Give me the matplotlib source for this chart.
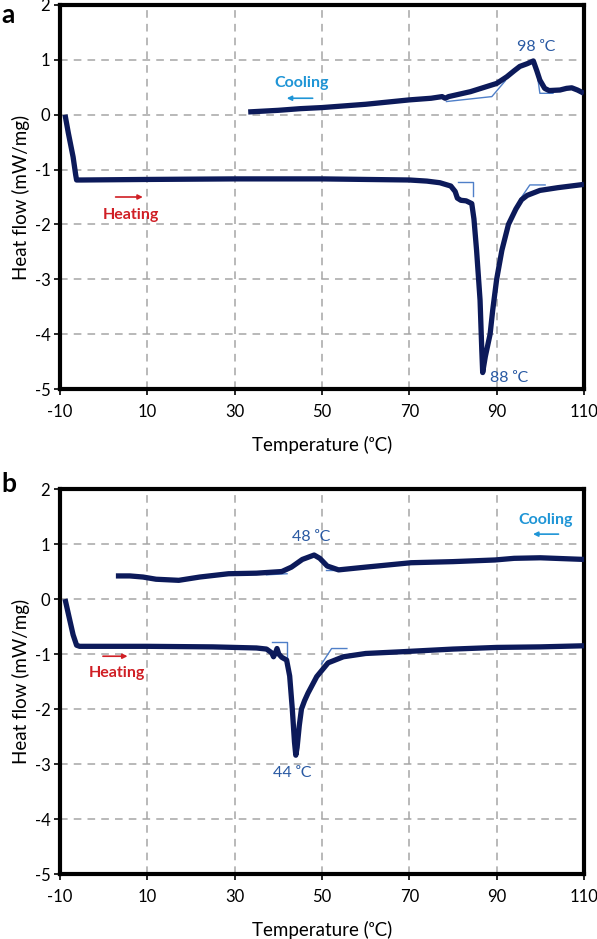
import matplotlib
matplotlib.use("Agg")
import matplotlib.pyplot as plt

plt.rcParams['font.family'] = ['Lato', 'DejaVu Sans']

# ---------------- data ----------------
x_ticks = [-10, 10, 30, 50, 70, 90, 110]
y_ticks = [-5, -4, -3, -2, -1, 0, 1, 2]

# Panel a
a_heat_T = [-8.85, -8.1, -7.0, -6.4, -6.2, -5, 10, 30, 50, 60, 70, 74, 77, 79.5, 80.5, 81.0, 81.8, 83.0,
            84.3, 84.8, 85.4, 86.2, 86.6, 86.8, 87.0, 87.4, 88.5, 89.1, 90.0, 91.2, 92.7, 94.4, 95.7,
            97.0, 99.9, 104, 107, 110]
a_heat_v = [0.0, -0.33, -0.77, -1.1, -1.19, -1.19, -1.18, -1.17, -1.17, -1.18, -1.19, -1.21, -1.24, -1.30,
            -1.40, -1.52, -1.56, -1.57, -1.62, -1.9, -2.47, -3.38, -4.3, -4.70, -4.6, -4.41, -4.0, -3.56,
            -3.0, -2.47, -2.0, -1.72, -1.55, -1.47, -1.38, -1.33, -1.30, -1.27]
a_cool_T = [33.1, 40, 45, 50, 60, 70, 75, 77.5, 78.2, 79, 84, 88, 90, 92.3, 94, 95.3, 97, 98.4, 99.2,
            99.9, 101, 102, 104.5, 106, 107.2, 108.5, 110]
a_cool_v = [0.05, 0.08, 0.11, 0.13, 0.19, 0.27, 0.30, 0.33, 0.30, 0.33, 0.42, 0.52, 0.57, 0.69, 0.80,
            0.88, 0.93, 0.98, 0.80, 0.63, 0.48, 0.44, 0.45, 0.48, 0.49, 0.45, 0.39]
a_tangents = [
    ([81.2, 84.6, 84.6], [-1.22, -1.22, -1.49]),
    ([95.3, 97.6, 101.1], [-1.55, -1.28, -1.28]),
    ([78.5, 88.9, 92.0], [0.24, 0.33, 0.62]),
    ([99.0, 99.9, 102.9], [0.90, 0.39, 0.39]),
]

# Panel b
b_heat_T = [-8.85, -8.0, -7.0, -6.2, -5.5, 10, 25, 30, 35, 37.3, 38.5, 38.9, 39.4, 39.7, 40.1, 40.8,
            41.9, 42.6, 43.2, 43.7, 44.0, 44.3, 44.8, 45.3, 46.0, 46.8, 48.8, 51.4, 54.9, 60, 67.9,
            80, 90, 100, 110]
b_heat_v = [0.0, -0.3, -0.65, -0.84, -0.86, -0.86, -0.87, -0.88, -0.89, -0.91, -0.98, -1.05, -0.97,
            -0.90, -1.0, -1.06, -1.11, -1.4, -2.0, -2.6, -2.84, -2.7, -2.3, -2.0, -1.85, -1.71, -1.41,
            -1.16, -1.05, -0.99, -0.96, -0.91, -0.88, -0.87, -0.85]
b_cool_T = [2.8, 6, 9, 12, 17.2, 22, 28.6, 35, 40.8, 43, 45.5, 48.2, 49.5, 51.2, 53.8, 60, 70.4, 80,
            89.6, 94, 100, 110]
b_cool_v = [0.42, 0.42, 0.40, 0.36, 0.34, 0.40, 0.46, 0.47, 0.50, 0.58, 0.72, 0.80, 0.74, 0.60, 0.53,
            0.58, 0.66, 0.68, 0.71, 0.74, 0.75, 0.72]
b_tangents = [
    ([38.5, 41.9, 41.9], [-0.79, -0.79, -1.16]),
    ([49.9, 52.2, 55.7], [-1.18, -0.90, -0.90]),
    ([37.3, 42.0], [0.44, 0.46]),
    ([51.0, 54.5], [0.52, 0.52]),
]

NAVY = '#0c1a5a'
THIN = '#4f7fc8'
ANNO = '#2a5aa3'
COOL = '#1f95d6'
HEAT = '#d01f25'

fig = plt.figure(figsize=(5.97, 9.39), dpi=100)
ax_a = fig.add_axes([0.1005, 0.5857, 0.8777, 0.409])
ax_b = fig.add_axes([0.1005, 0.0692, 0.8777, 0.41])


def style(ax):
    ax.set_xlim(-10, 110)
    ax.set_ylim(-5, 2)
    ax.set_xticks(x_ticks)
    ax.set_yticks(y_ticks)
    ax.set_xticklabels([str(t) for t in x_ticks])
    ax.set_yticklabels([str(t) for t in y_ticks])
    ax.grid(True, color='#a6a6a6', linestyle=(0, (5, 4)), linewidth=1.1)
    ax.set_axisbelow(True)
    for s in ax.spines.values():
        s.set_linewidth(3.0)
        s.set_color('black')
    ax.tick_params(axis='both', direction='out', length=4, width=1.2, labelsize=12, colors='black')
    ax.tick_params(axis='x', pad=7)
    ax.tick_params(axis='y', pad=3)
    ax.set_xlabel('Temperature (ᵒC)', fontsize=13.5, labelpad=11)
    ax.set_ylabel('Heat flow (mW/mg)', fontsize=13.5, labelpad=3)


for ax, ht, hv, ct, cv, tang in [
    (ax_a, a_heat_T, a_heat_v, a_cool_T, a_cool_v, a_tangents),
    (ax_b, b_heat_T, b_heat_v, b_cool_T, b_cool_v, b_tangents),
]:
    style(ax)
    for tx, ty in tang:
        ax.plot(tx, ty, color=THIN, lw=1.0, zorder=3)
    ax.plot(ht, hv, color=NAVY, lw=3.8, solid_joinstyle='round', solid_capstyle='butt', zorder=4)
    ax.plot(ct, cv, color=NAVY, lw=3.8, solid_joinstyle='round', solid_capstyle='butt', zorder=4)

# annotations panel a
ax_a.text(45.3, 0.58, 'Cooling', color=COOL, fontsize=11.5, fontweight='bold', ha='center', va='center')
ax_a.annotate('', xy=(41.3, 0.30), xytext=(48.5, 0.30),
              arrowprops=dict(arrowstyle='-|>', color=COOL, lw=1.2, mutation_scale=7))
ax_a.text(6.2, -1.83, 'Heating', color=HEAT, fontsize=11.5, fontweight='bold', ha='center', va='center')
ax_a.annotate('', xy=(9.6, -1.5), xytext=(2.1, -1.5),
              arrowprops=dict(arrowstyle='-|>', color=HEAT, lw=1.2, mutation_scale=7))
ax_a.text(99.1, 1.24, '98 ᵒC', color=ANNO, fontsize=11.5, ha='center', va='center')
ax_a.text(88.4, -4.79, '88 ᵒC', color=ANNO, fontsize=11.5, ha='left', va='center')

# annotations panel b
ax_b.text(101.3, 1.44, 'Cooling', color=COOL, fontsize=11.5, fontweight='bold', ha='center', va='center')
ax_b.annotate('', xy=(97.7, 1.18), xytext=(104.8, 1.18),
              arrowprops=dict(arrowstyle='-|>', color=COOL, lw=1.2, mutation_scale=7))
ax_b.text(3.0, -1.35, 'Heating', color=HEAT, fontsize=11.5, fontweight='bold', ha='center', va='center')
ax_b.annotate('', xy=(6.1, -1.04), xytext=(-0.8, -1.04),
              arrowprops=dict(arrowstyle='-|>', color=HEAT, lw=1.2, mutation_scale=7))
ax_b.text(47.5, 1.13, '48 ᵒC', color=ANNO, fontsize=11.5, ha='center', va='center')
ax_b.text(43.2, -3.16, '44 ᵒC', color=ANNO, fontsize=11.5, ha='center', va='center')

fig.text(0.003, 0.997, 'a', fontsize=19, fontweight='bold', ha='left', va='top')
fig.text(0.003, 0.497, 'b', fontsize=19, fontweight='bold', ha='left', va='top')

fig.savefig('out.png', dpi=100)
